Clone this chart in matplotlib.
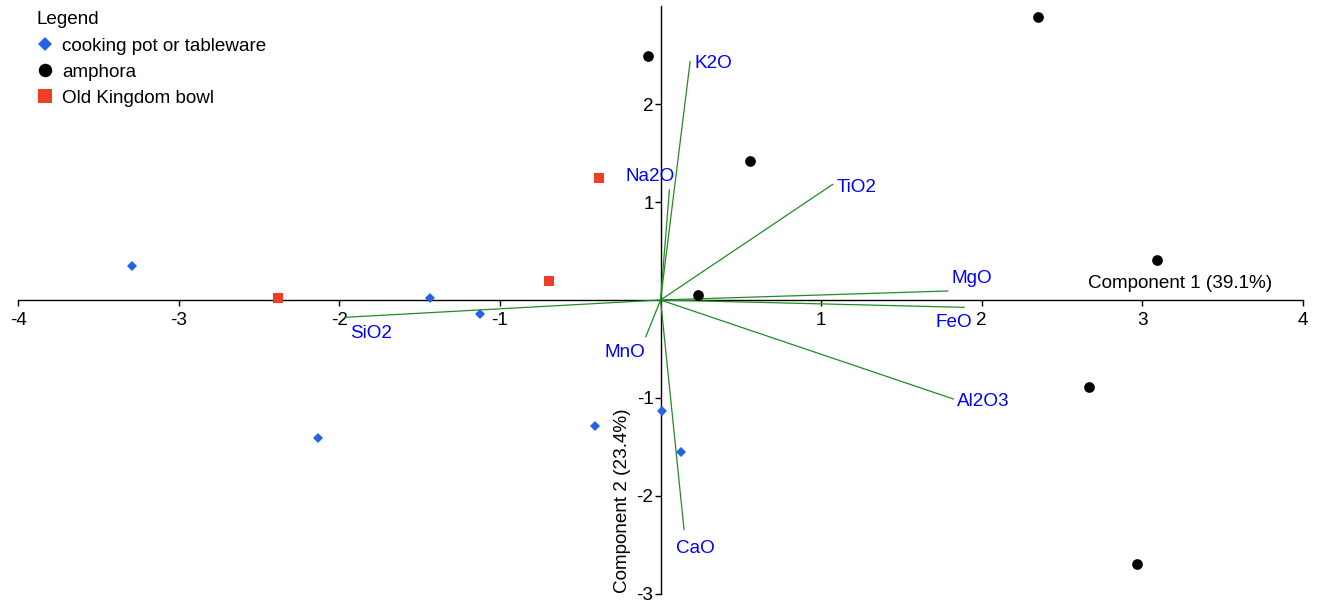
import matplotlib.pyplot as plt
from matplotlib.lines import Line2D

plt.rcParams['font.family'] = ['Liberation Sans', 'DejaVu Sans']
plt.rcParams['font.size'] = 13.6

# sample scores (component 1, component 2)
cooking_x = [-3.289, -1.435, -1.124, -2.131, -0.408, 0.007, 0.128]
cooking_y = [0.344, 0.017, -0.146, -1.410, -1.284, -1.131, -1.550]

amphora_x = [-0.076, 0.559, 0.232, 2.349, 3.092, 2.670, 2.967]
amphora_y = [2.489, 1.423, 0.051, 2.894, 0.409, -0.889, -2.697]

bowl_x = [-0.381, -0.694, -2.380]
bowl_y = [1.243, 0.197, 0.017]

# oxide loadings
oxides = ['K2O', 'Na2O', 'TiO2', 'MgO', 'FeO', 'Al2O3', 'CaO', 'MnO', 'SiO2']
load_x = [0.184, 0.055, 1.072, 1.788, 1.890, 1.823, 0.146, -0.092, -1.965]
load_y = [2.434, 1.124, 1.181, 0.092, -0.075, -1.011, -2.343, -0.375, -0.177]

xticks = [-4, -3, -2, -1, 1, 2, 3, 4]
yticks = [-3, -2, -1, 1, 2]

# label placement: offset in pixels from the arrow tip, horizontal alignment
label_place = {
    'K2O': (4, -6.5, 'left'),
    'Na2O': (-19, 8.5, 'center'),
    'TiO2': (4, -7.2, 'left'),
    'MgO': (3.3, 7.5, 'left'),
    'FeO': (7.7, -19.8, 'right'),
    'Al2O3': (3.4, -6.8, 'left'),
    'CaO': (11, -23.3, 'center'),
    'MnO': (-0.7, -20, 'right'),
    'SiO2': (5, -21, 'left'),
}

blue = '#2462e8'
red = '#ef3e25'
green = '#228b22'

fig = plt.figure(figsize=(13.2, 6.04), dpi=100)
ax = fig.add_axes([0, 0, 1, 1])
ax.set_xlim(-4.113, 4.106)
ax.set_ylim(-3.105, 3.064)

for s in ['top', 'right']:
    ax.spines[s].set_visible(False)
for s in ['left', 'bottom']:
    ax.spines[s].set_position(('data', 0))
    ax.spines[s].set_linewidth(1.0)
    ax.spines[s].set_zorder(1)
ax.spines['bottom'].set_bounds(-4, 4)
ax.spines['left'].set_bounds(-3, 3)

ax.set_xticks(xticks)
ax.set_xticklabels([str(t) for t in xticks])
ax.set_yticks(yticks)
ax.set_yticklabels([str(t) for t in yticks])
ax.tick_params(axis='x', direction='out', length=4, width=1, pad=5)
ax.tick_params(axis='y', direction='out', length=4.5, width=1, pad=0.5)

for name, lx, ly in zip(oxides, load_x, load_y):
    ax.plot([0, lx], [0, ly], color=green, lw=0.9, zorder=2)
    dx, dy, ha = label_place[name]
    ax.annotate(name, (lx, ly), xytext=(dx, dy), textcoords='offset pixels',
                ha=ha, va='baseline', color='blue')

ax.plot(cooking_x, cooking_y, 'D', color=blue, ms=5.4, mew=0, zorder=3)
ax.plot(amphora_x, amphora_y, 'o', color='black', ms=7.7, mew=0, zorder=3)
ax.plot(bowl_x, bowl_y, 's', color=red, ms=7.2, mew=0, zorder=3)

ax.text(3.811, 0.123, 'Component 1 (39.1%)', ha='right', va='baseline')
ax.text(-0.209, -2.993, 'Component 2 (23.4%)', rotation=90, rotation_mode='anchor',
        ha='left', va='baseline')

handles = [
    Line2D([], [], marker='D', ls='none', color=blue, ms=7.4, mew=0),
    Line2D([], [], marker='o', ls='none', color='black', ms=9.7, mew=0),
    Line2D([], [], marker='s', ls='none', color=red, ms=10, mew=0),
]
labels = ['cooking pot or tableware', 'amphora', 'Old Kingdom bowl']
ax.legend(handles, labels, title='Legend', loc='upper left',
          bbox_to_anchor=(37 / 1320, 1 - 11.5 / 604), frameon=False,
          borderpad=0, borderaxespad=0, handlelength=0.85, handletextpad=0.48,
          labelspacing=0.47, alignment='left', title_fontsize=13.6)

fig.savefig('out.png', dpi=100)
